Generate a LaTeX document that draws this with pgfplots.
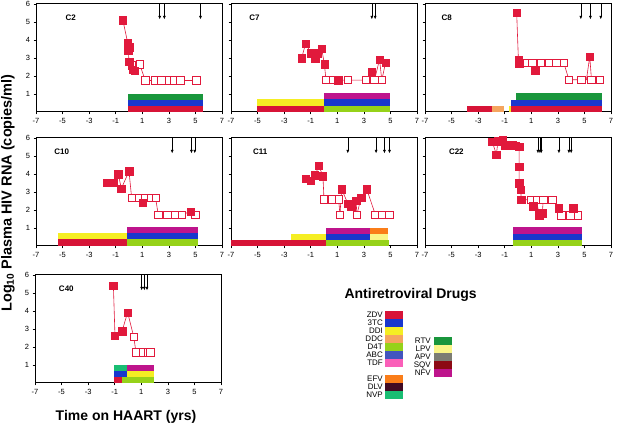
\documentclass[border=0pt]{standalone}
\usepackage{fontspec}
\setmainfont{Liberation Sans}
\usepackage{pgfplots}
\pgfplotsset{compat=1.18}
\usetikzlibrary{arrows.meta}

\definecolor{cZDV}{RGB}{215,20,55}
\definecolor{c3TC}{RGB}{25,55,205}
\definecolor{cDDI}{RGB}{245,238,35}
\definecolor{cDDC}{RGB}{245,165,95}
\definecolor{cD4T}{RGB}{150,210,25}
\definecolor{cABC}{RGB}{65,85,190}
\definecolor{cTDF}{RGB}{250,95,185}
\definecolor{cEFV}{RGB}{250,125,25}
\definecolor{cDLV}{RGB}{65,10,35}
\definecolor{cNVP}{RGB}{25,190,115}
\definecolor{cRTV}{RGB}{25,150,60}
\definecolor{cLPV}{RGB}{250,245,135}
\definecolor{cAPV}{RGB}{125,125,115}
\definecolor{cSQV}{RGB}{140,10,20}
\definecolor{cNFV}{RGB}{190,20,140}
\definecolor{cpt}{RGB}{225,25,60}

\tikzset{tag/.style={font=\bfseries\fontsize{8}{9}\selectfont, anchor=west}}
\pgfplotsset{
  panel/.style={
    scale only axis, width=186pt, height=108pt, anchor=south west,
    xmin=-7, xmax=7, ymin=0, ymax=6,
    xtick={-7,-5,-3,-1,1,3,5,7}, xticklabels={-7,-5,-3,-1,1,3,5,7},
    ytick={1,2,3,4,5,6}, yticklabels={},
    tick align=outside, major tick length=2.5pt,
    xtick pos=bottom, ytick pos=left,
    tick style={black, line width=0.5pt},
    axis line style={line width=1pt},
    ticklabel style={font=\fontsize{7.5}{8}\selectfont},
    clip=false,
  },
  lefty/.style={yticklabels={1,2,3,4,5,6}},
  ln/.style={cpt, line width=0.6pt},
  fsq/.style={only marks, mark=square*, mark size=3.7pt, mark options={fill=cpt, draw=cpt}},
  osq/.style={only marks, mark=square*, mark size=3.7pt, mark options={fill=white, draw=cpt, line width=0.7pt}},
  arr/.style={black, line width=0.5pt, -{Latex[length=3.5pt,width=3pt]}, quiver={u=0,v=-0.85}},
  band/.style={fill=#1, draw=none},
}

\begin{document}
\begin{tikzpicture}
\path[use as bounding box] (0pt,0pt) rectangle (620pt,427pt);

% ---------------- C2
\begin{axis}[panel, lefty, at={(36pt,315pt)}]
\addplot[band=cZDV] coordinates {(-0.1,0) (5.58,0) (5.58,0.34) (-0.1,0.34)};
\addplot[band=c3TC] coordinates {(-0.1,0.34) (5.58,0.34) (5.58,0.68) (-0.1,0.68)};
\addplot[band=cRTV] coordinates {(-0.1,0.68) (5.58,0.68) (5.58,1.02) (-0.1,1.02)};
\addplot[ln] coordinates {(-0.46,5.1) (-0.1,3.85) (0.0,3.6) (-0.05,3.4) (0.0,2.8) (0.3,2.35) (0.45,2.3) (0.22,2.6) (0.8,2.65) (1.23,1.75) (1.98,1.75) (2.43,1.75) (2.99,1.75) (3.36,1.75) (3.87,1.75) (5.08,1.75)};
\addplot[osq] coordinates {(0.22,2.6) (0.8,2.65) (1.23,1.75) (1.98,1.75) (2.43,1.75) (2.99,1.75) (3.36,1.75) (3.87,1.75) (5.08,1.75)};
\addplot[fsq] coordinates {(-0.46,5.1) (-0.1,3.85) (0.0,3.6) (-0.05,3.4) (0.0,2.8) (0.3,2.35) (0.45,2.3)};
\addplot[arr] coordinates {(2.31,6) (2.66,6) (5.38,6)};
\node[tag] at (rel axis cs:0.14,0.87) {C2};
\end{axis}

% ---------------- C7
\begin{axis}[panel, at={(231pt,315pt)}]
\addplot[band=cZDV] coordinates {(-5.05,0) (0,0) (0,0.36) (-5.05,0.36)};
\addplot[band=cDDI] coordinates {(-5.05,0.36) (0,0.36) (0,0.7) (-5.05,0.7)};
\addplot[band=cD4T] coordinates {(0,0) (4.95,0) (4.95,0.36) (0,0.36)};
\addplot[band=c3TC] coordinates {(0,0.36) (4.95,0.36) (4.95,0.7) (0,0.7)};
\addplot[band=cNFV] coordinates {(0,0.7) (4.95,0.7) (4.95,1.05) (0,1.05)};
\addplot[ln] coordinates {(-1.69,2.98) (-1.38,3.81) (-0.98,3.26) (-0.65,2.98) (-0.48,3.26) (-0.18,3.53) (0.03,2.66) (0.15,1.77) (0.65,1.77) (1.08,1.77) (1.79,1.77) (3.17,1.77) (3.6,2.23) (3.8,1.77) (4.18,2.92) (4.35,1.77) (4.63,2.73)};
\addplot[osq] coordinates {(0.15,1.77) (0.65,1.77) (1.79,1.77) (3.17,1.77) (3.8,1.77) (4.35,1.77)};
\addplot[fsq] coordinates {(-1.69,2.98) (-1.38,3.81) (-0.98,3.26) (-0.65,2.98) (-0.48,3.26) (-0.18,3.53) (0.03,2.66) (1.08,1.77) (3.6,2.23) (4.18,2.92) (4.63,2.73)};
\addplot[arr] coordinates {(3.6,6) (3.85,6)};
\node[tag] at (rel axis cs:0.08,0.87) {C7};
\end{axis}

% ---------------- C8
\begin{axis}[panel, at={(425pt,315pt)}]
\addplot[band=cZDV] coordinates {(-3.85,0) (-1.93,0) (-1.93,0.36) (-3.85,0.36)};
\addplot[band=cDDC] coordinates {(-1.93,0) (-1.05,0) (-1.05,0.36) (-1.93,0.36)};
\addplot[band=cDDI] coordinates {(-0.68,0) (-0.53,0) (-0.53,0.36) (-0.68,0.36)};
\addplot[band=cZDV] coordinates {(-0.53,0) (6.33,0) (6.33,0.36) (-0.53,0.36)};
\addplot[band=c3TC] coordinates {(-0.53,0.36) (6.33,0.36) (6.33,0.69) (-0.53,0.69)};
\addplot[band=cRTV] coordinates {(-0.18,0.69) (6.33,0.69) (6.33,1.05) (-0.18,1.05)};
\addplot[ln] coordinates {(-0.1,5.5) (0.03,2.9) (0.08,2.7) (0.48,2.73) (1.08,2.73) (1.28,2.33) (1.73,2.73) (2.33,2.73) (2.88,2.73) (3.45,2.73) (3.83,1.79) (4.78,1.79) (5.15,1.79) (5.4,3.08) (5.53,1.79) (6.15,1.79)};
\addplot[osq] coordinates {(0.48,2.73) (1.08,2.73) (1.73,2.73) (2.33,2.73) (2.88,2.73) (3.45,2.73) (3.83,1.79) (4.78,1.79) (5.53,1.79) (6.15,1.79)};
\addplot[fsq] coordinates {(-0.1,5.5) (0.03,2.9) (0.08,2.7) (1.28,2.33) (5.4,3.08)};
\addplot[arr] coordinates {(4.73,6) (5.45,6) (6.23,6)};
\node[tag] at (rel axis cs:0.07,0.87) {C8};
\end{axis}

% ---------------- C10
\begin{axis}[panel, lefty, at={(36pt,181pt)}]
\addplot[band=cZDV] coordinates {(-5.38,0) (-0.12,0) (-0.12,0.37) (-5.38,0.37)};
\addplot[band=cDDI] coordinates {(-5.38,0.37) (-0.12,0.37) (-0.12,0.72) (-5.38,0.72)};
\addplot[band=cD4T] coordinates {(-0.12,0) (5.2,0) (5.2,0.37) (-0.12,0.37)};
\addplot[band=c3TC] coordinates {(-0.12,0.37) (5.2,0.37) (5.2,0.72) (-0.12,0.72)};
\addplot[band=cNFV] coordinates {(-0.12,0.72) (5.2,0.72) (5.2,1.07) (-0.12,1.07)};
\addplot[ln] coordinates {(-1.63,3.52) (-1.13,3.52) (-0.8,3.98) (-0.58,3.19) (0,4.15) (0.2,2.67) (0.75,2.67) (1.05,2.41) (1.2,2.67) (1.63,2.67) (2.0,2.67) (2.2,1.74) (2.5,1.74) (2.88,1.74) (3.45,1.74) (4.0,1.74) (4.63,1.92) (5.0,1.74)};
\addplot[osq] coordinates {(0.2,2.67) (0.75,2.67) (1.2,2.67) (1.63,2.67) (2.0,2.67) (2.2,1.74) (2.88,1.74) (3.45,1.74) (4.0,1.74) (5.0,1.74)};
\addplot[fsq] coordinates {(-1.63,3.52) (-1.13,3.52) (-0.8,3.98) (-0.58,3.19) (0,4.15) (1.05,2.41) (4.63,1.92)};
\addplot[arr] coordinates {(3.25,6) (4.7,6) (4.95,6)};
\node[tag] at (rel axis cs:0.08,0.87) {C10};
\end{axis}

% ---------------- C11
\begin{axis}[panel, at={(231pt,181pt)}]
\addplot[band=cZDV] coordinates {(-7,0) (0.18,0) (0.18,0.36) (-7,0.36)};
\addplot[band=cDDI] coordinates {(-2.5,0.36) (0.18,0.36) (0.18,0.69) (-2.5,0.69)};
\addplot[band=cD4T] coordinates {(0.18,0) (4.9,0) (4.9,0.36) (0.18,0.36)};
\addplot[band=c3TC] coordinates {(0.18,0.36) (3.47,0.36) (3.47,0.69) (0.18,0.69)};
\addplot[band=cNFV] coordinates {(0.18,0.69) (3.47,0.69) (3.47,1.02) (0.18,1.02)};
\addplot[band=cLPV] coordinates {(3.47,0.36) (4.85,0.36) (4.85,0.69) (3.47,0.69)};
\addplot[band=cEFV] coordinates {(3.47,0.69) (4.85,0.69) (4.85,1.02) (3.47,1.02)};
\addplot[ln] coordinates {(-1.38,3.75) (-0.98,3.64) (-0.68,3.93) (-0.38,4.45) (-0.08,3.87) (0,2.6) (0.6,2.6) (1.1,2.6) (1.2,1.73) (1.33,3.16) (1.79,2.36) (2.04,2.18) (2.42,2.51) (2.47,1.73) (2.79,2.69) (3.22,3.15) (3.87,1.73) (4.38,1.73) (4.93,1.73)};
\addplot[osq] coordinates {(0,2.6) (0.6,2.6) (1.1,2.6) (1.2,1.73) (2.47,1.73) (3.87,1.73) (4.38,1.73) (4.93,1.73)};
\addplot[fsq] coordinates {(-1.38,3.75) (-0.98,3.64) (-0.68,3.93) (-0.38,4.45) (-0.08,3.87) (1.33,3.16) (1.79,2.36) (2.04,2.18) (2.42,2.51) (2.79,2.69) (3.22,3.15)};
\addplot[arr] coordinates {(1.79,6) (3.92,6) (4.55,6) (4.93,6)};
\node[tag] at (rel axis cs:0.1,0.87) {C11};
\end{axis}

% ---------------- C22
\begin{axis}[panel, at={(425pt,181pt)}]
\addplot[band=cD4T] coordinates {(-0.35,0) (4.83,0) (4.83,0.35) (-0.35,0.35)};
\addplot[band=c3TC] coordinates {(-0.35,0.35) (4.83,0.35) (4.83,0.68) (-0.35,0.68)};
\addplot[band=cNFV] coordinates {(-0.35,0.68) (4.83,0.68) (4.83,1.03) (-0.35,1.03)};
\addplot[ln] coordinates {(-1.93,5.78) (-1.63,5.08) (-1.5,5.85) (-1.3,5.78) (-1.15,5.9) (-1.0,5.6) (-0.68,5.63) (-0.4,5.6) (-0.18,5.56) (0.08,5.5) (0.08,4.4) (0.08,3.49) (0.2,3.12) (0.25,2.57) (0.95,2.57) (1.15,2.2) (1.4,2.57) (1.58,1.7) (1.83,1.83) (1.9,2.57) (2.58,2.57) (3.08,2.1) (3.25,1.7) (3.95,1.7) (4.15,2.1) (4.5,1.7)};
\addplot[osq] coordinates {(0.95,2.57) (1.4,2.57) (1.9,2.57) (2.58,2.57) (3.25,1.7) (3.95,1.7) (4.5,1.7)};
\addplot[fsq] coordinates {(-1.93,5.78) (-1.63,5.08) (-1.5,5.85) (-1.3,5.78) (-1.15,5.9) (-1.0,5.6) (-0.68,5.63) (-0.4,5.6) (-0.18,5.56) (0.08,5.5) (0.08,4.4) (0.08,3.49) (0.2,3.12) (0.25,2.57) (1.15,2.2) (1.58,1.7) (1.83,1.83) (3.08,2.1) (4.15,2.1)};
\addplot[arr] coordinates {(1.5,6) (1.65,6) (1.75,6) (3.08,6) (3.83,6) (4.0,6)};
\node[tag] at (rel axis cs:0.11,0.87) {C22};
\end{axis}

% ---------------- C40
\begin{axis}[panel, lefty, at={(35pt,44pt)}]
\addplot[band=cZDV] coordinates {(-1.08,0) (-0.48,0) (-0.48,0.35) (-1.08,0.35)};
\addplot[band=cD4T] coordinates {(-0.48,0) (1.98,0) (1.98,0.35) (-0.48,0.35)};
\addplot[band=c3TC] coordinates {(-1.08,0.35) (-0.08,0.35) (-0.08,0.68) (-1.08,0.68)};
\addplot[band=cDDI] coordinates {(-0.08,0.35) (1.98,0.35) (1.98,0.68) (-0.08,0.68)};
\addplot[band=cNVP] coordinates {(-1.08,0.68) (-0.08,0.68) (-0.08,1.01) (-1.08,1.01)};
\addplot[band=cNFV] coordinates {(-0.08,0.68) (1.98,0.68) (1.98,1.01) (-0.08,1.01)};
\addplot[ln] coordinates {(-1.1,5.4) (-0.98,2.63) (-0.45,2.87) (-0.03,3.92) (0.43,2.58) (0.6,1.71) (1.15,1.71) (1.48,1.71) (1.68,1.71)};
\addplot[osq] coordinates {(0.43,2.58) (0.6,1.71) (1.15,1.71) (1.48,1.71) (1.68,1.71)};
\addplot[fsq] coordinates {(-1.1,5.4) (-0.98,2.63) (-0.45,2.87) (-0.03,3.92)};
\addplot[arr] coordinates {(1.03,6) (1.23,6) (1.43,6)};
\node[tag] at (rel axis cs:0.11,0.87) {C40};
\end{axis}

% ---------------- shared labels
\node[rotate=90, font=\bfseries\fontsize{14.5}{16}\selectfont] at (8pt,234pt)
  {Log\textsubscript{10} Plasma HIV RNA (copies/ml)};
\node[font=\bfseries\fontsize{14}{16}\selectfont] at (126pt,10pt) {Time on HAART (yrs)};

% ---------------- drug legend
\node[font=\bfseries\fontsize{14}{16}\selectfont, anchor=west] at (341pt,132pt) {Antiretroviral Drugs};
\foreach \n/\c [count=\i from 0] in {ZDV/cZDV,3TC/c3TC,DDI/cDDI,DDC/cDDC,D4T/cD4T,ABC/cABC,TDF/cTDF}{
  \fill[\c] (385pt,{(116-8*\i)*1pt}) rectangle (403pt,{(108-8*\i)*1pt});
  \node[anchor=east, inner sep=1pt, font=\fontsize{8}{8}\selectfont] at (384pt,{(112-8*\i)*1pt}) {\n};
}
\foreach \n/\c [count=\i from 0] in {EFV/cEFV,DLV/cDLV,NVP/cNVP}{
  \fill[\c] (385pt,{(52-8*\i)*1pt}) rectangle (403pt,{(44-8*\i)*1pt});
  \node[anchor=east, inner sep=1pt, font=\fontsize{8}{8}\selectfont] at (384pt,{(48-8*\i)*1pt}) {\n};
}
\foreach \n/\c [count=\i from 0] in {RTV/cRTV,LPV/cLPV,APV/cAPV,SQV/cSQV,NFV/cNFV}{
  \fill[\c] (434pt,{(90-8*\i)*1pt}) rectangle (452pt,{(82-8*\i)*1pt});
  \node[anchor=east, inner sep=1pt, font=\fontsize{8}{8}\selectfont] at (432pt,{(86-8*\i)*1pt}) {\n};
}
\end{tikzpicture}
\end{document}
